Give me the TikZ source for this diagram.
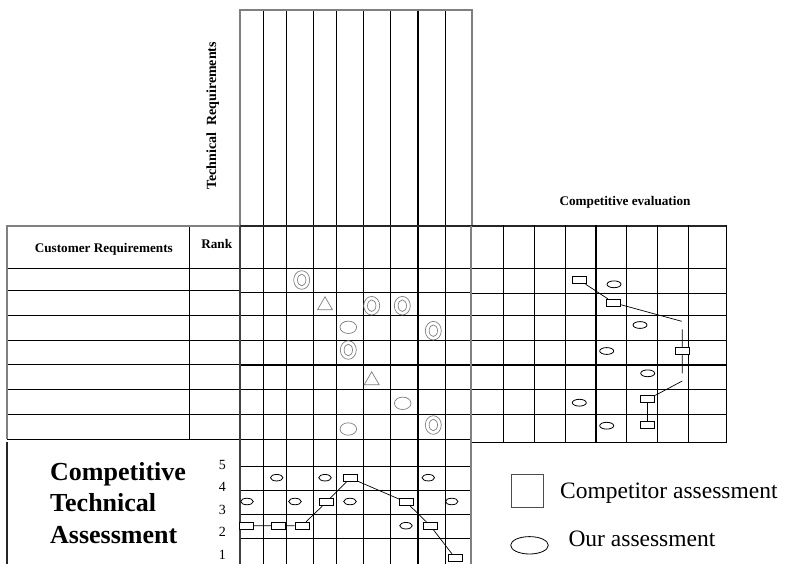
\documentclass[tikz,border=0pt]{standalone}
\usepackage{fontspec}
\setmainfont{Liberation Serif}
\usetikzlibrary{shapes.geometric}
\definecolor{framegray}{gray}{0.5}
\definecolor{relgray}{gray}{0.5}
\begin{document}
\begin{tikzpicture}[x=1pt,y=-1pt,
  gridline/.style={line width=1pt,black},
  heavyline/.style={line width=2pt,black},
  frameline/.style={line width=2pt,framegray},
  comp/.style={draw,fill=white,rectangle,minimum width=14pt,minimum height=7pt,inner sep=0pt,line width=0.8pt},
  ours/.style={draw,fill=white,ellipse,minimum width=12.5pt,minimum height=6.5pt,inner sep=0pt,line width=0.8pt},
  link/.style={line width=0.7pt,black},
  rel/.style={line width=0.7pt,relgray},
  strongrel/.pic={\draw[rel] (0,0) ellipse [x radius=8,y radius=9.3];
                  \draw[rel] (0,0) ellipse [x radius=4.2,y radius=5.8];},
  mediumrel/.pic={\draw[rel] (-7.5,6.5) -- (7.5,6.5) -- (0,-6.5) -- cycle;},
  weakrel/.pic={\draw[rel] (0,0) ellipse [x radius=8.3,y radius=6.2];},
  headfont/.style={font=\fontsize{13.2}{15}\selectfont\bfseries,inner sep=0pt},
  bigfont/.style={font=\fontsize{26}{31}\selectfont\bfseries,inner sep=0pt},
  scalefont/.style={font=\fontsize{14}{16}\selectfont,inner sep=0pt},
  legfont/.style={font=\fontsize{23.5}{27}\selectfont,inner sep=0pt}
]
\fill[white] (0,0) rectangle (786,564);
\useasboundingbox (0,0) rectangle (786,564);

% ---------- roof columns and relationship matrix columns ----------
\foreach \x in {263.3,286.7,313.3,336.7,363.3,390.5,445.5}
  \draw[gridline] (\x,10) -- (\x,564);
\draw[heavyline] (418,10) -- (418,564);
\draw[frameline] (240,226) -- (240,10) -- (472,10) -- (472,226);

% ---------- relationship matrix rows ----------
\foreach \y in {268.3,292.7,315.7,340,389.3,414.3}
  \draw[gridline] (240,\y) -- (471,\y);
\draw[gridline] (240,439) -- (471,439);
\foreach \y in {466.7,490.7,514.3,538.3}
  \draw[gridline] (240,\y) -- (471,\y);
\draw[line width=1.2pt,black!85] (240,226) -- (727,226);
\draw[heavyline] (240,364.6) -- (727,364.6);
\draw[line width=2pt,black!75] (239.5,226) -- (239.5,564);
\draw[line width=2.5pt,framegray] (471,226) -- (471,564);

% ---------- competitive evaluation grid ----------
\foreach \y in {268.3,293.3,315.7,340.7,389.3,414.3}
  \draw[gridline] (472,\y) -- (727,\y);
\draw[gridline] (472,442.3) -- (727,442.3);
\foreach \x in {503.3,534.2,565.7,626.7,657.5,688.7,726.7}
  \draw[gridline] (\x,225) -- (\x,442.3);
\draw[heavyline] (596,225) -- (596,442.3);

% ---------- customer requirements table ----------
\foreach \y in {268.3,290.5,315.7,340,364.3,389.3,414.3}
  \draw[gridline] (7,\y) -- (239,\y);
\draw[gridline] (189.3,226) -- (189.3,439);
\draw[gridline] (7,439) -- (239,439);
\draw[line width=1.2pt,framegray] (239,226) -- (7,226) -- (7,439);
\draw[line width=1.2pt,black!85] (7,442.3) -- (7,564);

% ---------- headings ----------
\node[headfont,anchor=base] (custhead) at (103.8,252.3) {Customer Requirements};
\node[headfont,anchor=base] (rankhead) at (216.7,248.3) {Rank};
\node[headfont,anchor=base] (evalhead) at (625,205) {Competitive evaluation};
\node[font=\fontsize{14}{16}\selectfont\bfseries,inner sep=0pt,anchor=base west,rotate=90] (techhead) at (216,190) {Technical\ \ Requirements};

% ---------- relationship symbols ----------
\foreach \p in {(301.7,280),(371.7,305.7),(402.3,305.7),(433.3,330.7),(348.3,350),(433.3,425)}
  \pic at \p {strongrel};
\foreach \p in {(325,303.3),(371.7,378.3)}
  \pic at \p {mediumrel};
\foreach \p in {(348.3,327.3),(402.7,403.3),(348.3,429)}
  \pic at \p {weakrel};

% ---------- competitive evaluation markers ----------
\node[comp] (c1) at (579.7,280.3) {};
\node[comp] (c2) at (613.8,302.8) {};
\node[comp] (c3) at (682.2,351.3) {};
\node[comp] (c4) at (647.8,399.3) {};
\node[comp] (c5) at (647.8,425.3) {};
\coordinate (k1) at (681.7,321.3);
\coordinate (k2) at (682.3,329.3);
\coordinate (k3) at (682.3,373.3);
\coordinate (k4) at (682.3,381);
\draw[link] (c1) -- (c2);
\draw[link] (c2) -- (k1);
\draw[link] (k2) -- (c3) -- (k3);
\draw[link] (k4) -- (c4);
\draw[link] (c4) -- (c5);
\node[ours,minimum width=14pt,minimum height=6.8pt] (e1) at (614,284.3) {};
\node[ours,minimum width=14pt,minimum height=6.8pt] (e2) at (640,325) {};
\node[ours,minimum width=14pt,minimum height=6.8pt] (e3) at (606.7,351) {};
\node[ours,minimum width=14pt,minimum height=6.8pt] (e4) at (647.7,373.3) {};
\node[ours,minimum width=14pt,minimum height=6.8pt] (e5) at (579.3,402.7) {};
\node[ours,minimum width=14pt,minimum height=6.8pt] (e6) at (606.7,425.7) {};

% ---------- technical assessment markers ----------
\node[ours] (o1) at (276.7,477.7) {};
\node[ours] (o2) at (325,477.7) {};
\node[ours] (o3) at (428.3,477.7) {};
\node[ours] (o4) at (247,501.5) {};
\node[ours] (o5) at (295,501.5) {};
\node[ours] (o6) at (350,501.5) {};
\node[ours] (o7) at (451.7,501.5) {};
\node[ours] (o8) at (406,525.7) {};
\node[comp] (t1) at (246.3,525.7) {};
\node[comp] (t2) at (278.7,525.7) {};
\node[comp] (t3) at (302,525.7) {};
\node[comp] (t4) at (326.3,502.2) {};
\node[comp] (t5) at (350.3,478) {};
\node[comp] (t6) at (406.3,502.2) {};
\node[comp] (t7) at (430.3,525.7) {};
\node[comp] (t8) at (455,557.8) {};
\draw[link] (t1) -- (t2) -- (t3) -- (t4) -- (t5) -- (t6) -- (t7) -- (t8);

% ---------- scale ----------
\node[scalefont,anchor=base east] (s5) at (226,469) {5};
\node[scalefont,anchor=base east] (s4) at (226,491.5) {4};
\node[scalefont,anchor=base east] (s3) at (226,514) {3};
\node[scalefont,anchor=base east] (s2) at (226,536.5) {2};
\node[scalefont,anchor=base east] (s1) at (226,559) {1};

% ---------- assessment title ----------
\node[bigfont,anchor=base west] (cta1) at (50,480) {Competitive};
\node[bigfont,anchor=base west] (cta2) at (50,511.7) {Technical};
\node[bigfont,anchor=base west] (cta3) at (50,543.3) {Assessment};

% ---------- legend ----------
\node[draw,line width=0.8pt,black!70,rectangle,minimum width=32pt,minimum height=33pt,inner sep=0pt] (legsq) at (527.5,490.8) {};
\node[legfont,anchor=base west] (legsqtext) at (560,498.3) {Competitor assessment};
\node[draw,line width=0.8pt,ellipse,minimum width=37.6pt,minimum height=17.4pt,inner sep=0pt] (legel) at (529.5,545.3) {};
\node[legfont,anchor=base west] (legeltext) at (568.3,546.7) {Our assessment};
\end{tikzpicture}
\end{document}
